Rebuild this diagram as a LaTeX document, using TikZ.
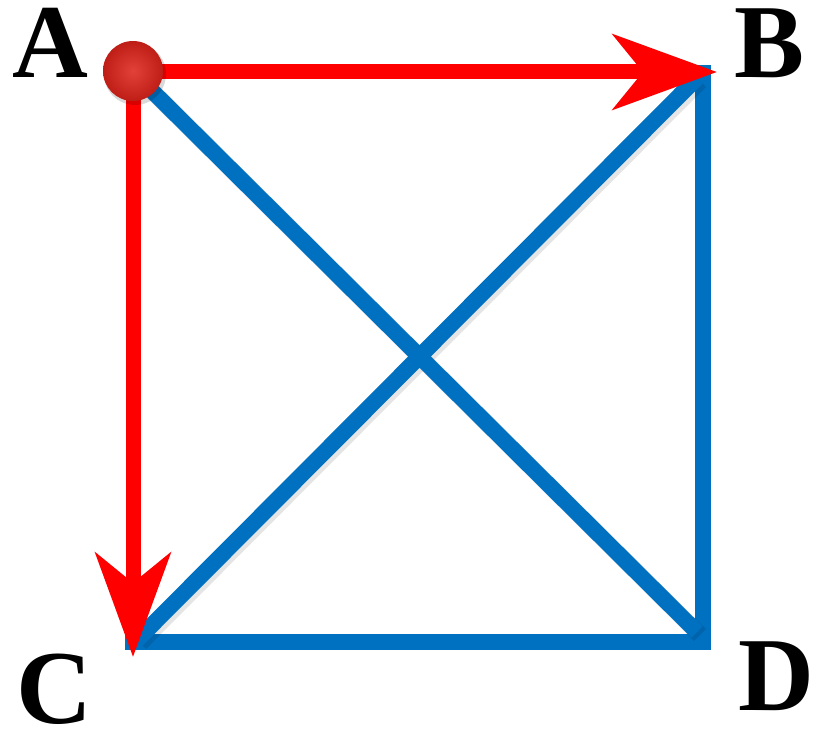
\documentclass[tikz,border=0pt]{standalone}
\usepackage{fontspec}
\setmainfont{Liberation Serif}
\usetikzlibrary{arrows.meta}
\definecolor{edgeblue}{RGB}{0,112,192}
\definecolor{arrred}{RGB}{255,0,0}
\definecolor{balllight}{RGB}{225,65,55}
\definecolor{balldark}{RGB}{190,30,22}
\tikzset{
  edge/.style={draw=edgeblue, line width=16pt, line join=miter},
  diag/.style={draw=edgeblue, line width=16pt},
  diagshadow/.style={draw=black, opacity=0.10, line width=17pt},
  redarrow/.style={draw=arrred, line width=15pt,
    -{Stealth[length=104pt, width=75pt, inset=30pt, fill=arrred]}},
  lbl/.style={font=\fontsize{105}{105}\selectfont\bfseries, inner sep=0pt,
    text height=70pt, text depth=0pt, anchor=base}
}
\begin{document}
\begin{tikzpicture}[x=1pt, y=-1pt]
\useasboundingbox (0,0) rectangle (815,730);
% corner coordinates
\coordinate (A) at (133,72);
\coordinate (B) at (703,72);
\coordinate (C) at (133,642);
\coordinate (D) at (703,642);
\coordinate (Btop) at (703,65);
\coordinate (Cleft) at (125,642);
\coordinate (Dend) at (697,632);
\coordinate (Cstart) at (137,640);
\coordinate (Bend) at (697,78);
\coordinate (tipB) at (717,72);
\coordinate (tipC) at (133,657);
% blue square edges
\draw[edge] (Btop) -- (D) -- (Cleft);
% diagonals with soft shadow
\draw[diagshadow] ([shift={(3,3)}]A) -- ([shift={(3,3)}]Dend);
\draw[diagshadow] ([shift={(3,3)}]Cstart) -- ([shift={(3,3)}]Bend);
\draw[diag] (A) -- (Dend);
\draw[diag] (Cstart) -- (Bend);
% red arrows
\draw[redarrow] (A) -- (tipB);
\draw[redarrow] (A) -- (tipC);
% ball at A
\fill[black, opacity=0.15] (135,74) circle (31);
\shade[inner color=balllight, outer color=balldark] (133,71) circle (30);
% labels
\node[lbl] (la) at (50.5,78) {A};
\node[lbl] (lb) at (770,78) {B};
\node[lbl] (lc) at (54,723) {C};
\node[lbl] (ld) at (776,710) {D};
\end{tikzpicture}
\end{document}
